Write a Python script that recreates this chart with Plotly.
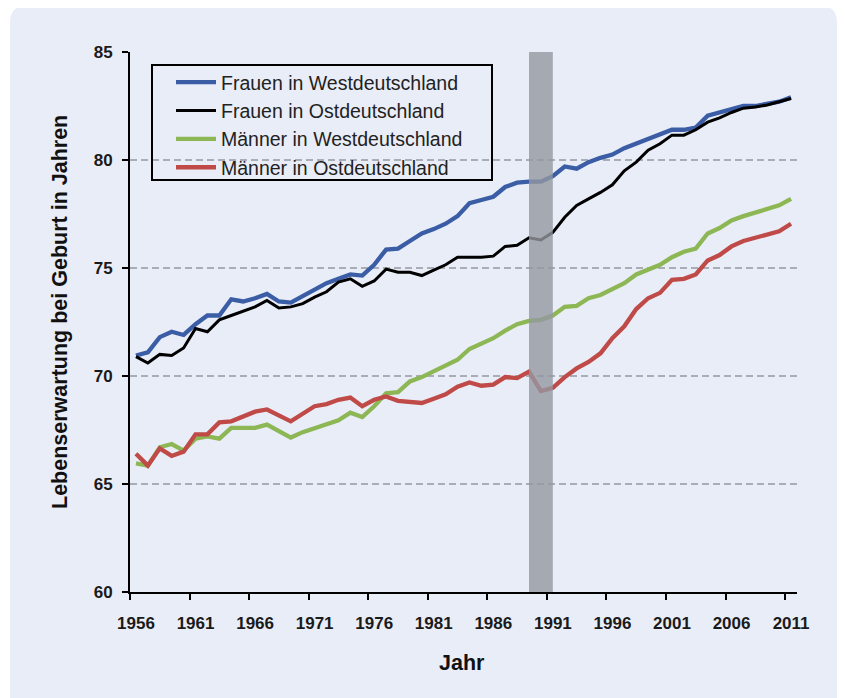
import plotly.graph_objects as go

years = list(range(1956, 2012))

frauen_west = [70.95, 71.1, 71.8, 72.05, 71.9, 72.4, 72.8, 72.8, 73.55, 73.45,
               73.6, 73.8, 73.45, 73.4, 73.7, 74.0, 74.3, 74.5, 74.7, 74.65,
               75.15, 75.85, 75.9, 76.25, 76.6, 76.8, 77.05, 77.4, 78.0, 78.15,
               78.3, 78.75, 78.95, 79.0, 79.0, 79.25, 79.7, 79.6, 79.9, 80.1,
               80.25, 80.55, 80.75, 80.95, 81.15, 81.4, 81.4, 81.5, 82.05, 82.2,
               82.4, 82.5, 82.5, 82.6, 82.7, 82.9]
frauen_ost = [70.9, 70.6, 71.0, 70.95, 71.3, 72.2, 72.05, 72.6, 72.8, 73.0,
              73.2, 73.5, 73.15, 73.2, 73.35, 73.65, 73.9, 74.35, 74.5, 74.15,
              74.4, 74.95, 74.8, 74.8, 74.65, 74.9, 75.15, 75.5, 75.5, 75.5,
              75.55, 76.0, 76.05, 76.4, 76.3, 76.65, 77.35, 77.9, 78.2, 78.5,
              78.85, 79.5, 79.9, 80.45, 80.75, 81.15, 81.15, 81.4, 81.75, 81.95,
              82.2, 82.4, 82.45, 82.55, 82.7, 82.85]
maenner_west = [65.95, 65.85, 66.7, 66.85, 66.55, 67.1, 67.2, 67.1, 67.6, 67.6,
                67.6, 67.75, 67.45, 67.15, 67.4, 67.6, 67.75, 67.95, 68.3, 68.1,
                68.6, 69.2, 69.25, 69.75, 69.95, 70.2, 70.5, 70.75, 71.25, 71.5,
                71.75, 72.1, 72.4, 72.55, 72.6, 72.8, 73.2, 73.25, 73.6, 73.75,
                74.0, 74.3, 74.7, 74.9, 75.15, 75.5, 75.75, 75.9, 76.6, 76.85,
                77.2, 77.4, 77.55, 77.7, 77.9, 78.2]
maenner_ost = [66.4, 65.85, 66.65, 66.3, 66.5, 67.3, 67.3, 67.85, 67.9, 68.1,
               68.35, 68.45, 68.2, 67.9, 68.25, 68.6, 68.7, 68.9, 69.0, 68.6,
               68.9, 69.05, 68.85, 68.8, 68.75, 68.95, 69.15, 69.5, 69.7, 69.55,
               69.6, 69.95, 69.9, 70.2, 69.3, 69.45, 69.95, 70.35, 70.65, 71.05,
               71.75, 72.3, 73.1, 73.6, 73.85, 74.45, 74.5, 74.7, 75.35, 75.6,
               76.0, 76.25, 76.4, 76.5, 76.7, 77.05]

series_names = ["Frauen in Westdeutschland", "Frauen in Ostdeutschland",
                "Männer in Westdeutschland", "Männer in Ostdeutschland"]
tick_labels = [str(y) for y in range(1956, 2012, 5)]
band_years = [1989, 1991]

# page body has an 8px margin; target coordinates are window pixels
OFF = 8
W, H = 845, 698
PL, PR, PT, PB = 130, 797, 52, 592   # plot area in window pixels
L, T = PL - OFF, PT - OFF
R, B = W - (PR - OFF), H - (PB - OFF)
PW, PH = PR - PL, PB - PT


def px(xp):
    return (xp - PL) / PW


def py(yp):
    return (PB - yp) / PH


colors = ["#3a5da6", "#000000", "#8db755", "#bf4a47"]
widths = [4.3, 3, 4.3, 4.3]
series = [frauen_west, frauen_ost, maenner_west, maenner_ost]

fig = go.Figure()
for i, (name, vals) in enumerate(zip(series_names, series)):
    fig.add_trace(go.Scatter(
        x=years, y=vals, mode="lines", name=name,
        line=dict(color=colors[i], width=widths[i]),
        legendgroup=f"g{i}",
    ))

font_family = "Liberation Sans, Arial, sans-serif"

# card background with rounded corners
cx0, cy0, cx1, cy1, r = 10, 6, 837, 730, 16
path = (f"M {px(cx0)},{py(cy0 + r)} Q {px(cx0)},{py(cy0)} {px(cx0 + r)},{py(cy0)} "
        f"L {px(cx1 - r)},{py(cy0)} Q {px(cx1)},{py(cy0)} {px(cx1)},{py(cy0 + r)} "
        f"L {px(cx1)},{py(cy1)} L {px(cx0)},{py(cy1)} Z")

shapes = [
    dict(type="path", path=path, xref="paper", yref="paper",
         fillcolor="#e9edf7", line=dict(width=0), layer="below"),
    dict(type="rect", xref="x", yref="y", x0=band_years[0], x1=band_years[1],
         y0=60, y1=85, fillcolor="rgba(148,151,160,0.8)", line=dict(width=0),
         layer="above"),
    dict(type="rect", xref="paper", yref="paper", x0=px(152), x1=px(492),
         y0=py(180), y1=py(65), line=dict(color="black", width=2),
         fillcolor="rgba(0,0,0,0)", layer="above"),
]

fig.update_layout(
    width=W, height=H,
    margin=dict(l=L, r=R, t=T, b=B),
    paper_bgcolor="white",
    plot_bgcolor="rgba(0,0,0,0)",
    font=dict(family=font_family, color="#1a1a1a"),
    shapes=shapes,
    showlegend=True,
    legend=dict(x=px(171), y=py(63), xanchor="left", yanchor="top",
                bgcolor="rgba(0,0,0,0)", borderwidth=0,
                font=dict(size=19.5, color="#222222", family=font_family),
                tracegroupgap=0, itemwidth=40),
    annotations=[
        dict(text="Lebenserwartung bei Geburt in Jahren", textangle=-90,
             xref="paper", yref="paper", x=px(60), y=py(312),
             xanchor="center", yanchor="middle",
             showarrow=False, font=dict(size=21.5, weight="bold", color="#111111")),
        dict(text="Jahr", xref="paper", yref="paper", x=px(462), y=py(663),
             xanchor="center", yanchor="middle",
             showarrow=False, font=dict(size=21.5, weight="bold", color="#111111")),
    ],
)

fig.update_xaxes(
    range=[1955.5, 2011.5],
    tickvals=[y - 0.5 for y in range(1956, 2012, 5)],
    ticktext=tick_labels,
    ticklabelshift=6,
    ticklabelstandoff=9,
    ticks="outside", ticklen=6, tickwidth=2, tickcolor="black",
    showline=True, linecolor="black", linewidth=2,
    showgrid=False, zeroline=False,
    tickfont=dict(size=17, weight="bold", color="#1a1a1a"),
)
fig.update_yaxes(
    range=[60, 85], dtick=5, tick0=60,
    ticks="outside", ticklen=6, tickwidth=2, tickcolor="black",
    showline=True, linecolor="black", linewidth=2,
    showgrid=True, gridcolor="#a9adb5", gridwidth=1.5, griddash="7px,4px",
    zeroline=False,
    ticklabelstandoff=6,
    tickfont=dict(size=17, weight="bold", color="#1a1a1a"),
)

fig.write_html("out.html")
